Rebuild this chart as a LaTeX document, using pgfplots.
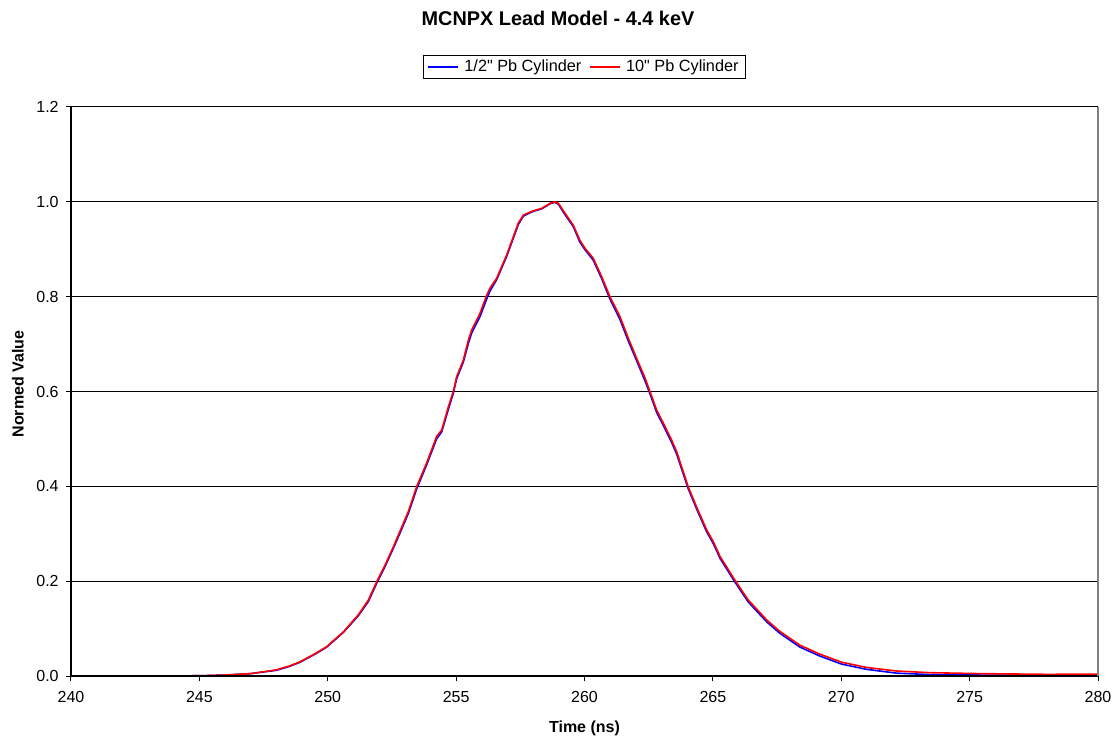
\documentclass[border=0pt]{standalone}
\usepackage{fontspec}
\setmainfont{Liberation Sans}
\newfontfamily\plainfont{Liberation Sans}
\newcommand{\inch}{{\plainfont"}}
\usepackage{pgfplots}
\pgfplotsset{compat=1.18}

\pgfplotstableread{
t v
240.25 0
243.00 0
245.00 0.0005
246.00 0.002
247.00 0.005
248.00 0.013
248.50 0.021
248.92 0.030
249.57 0.049
249.96 0.062
250.61 0.093
251.19 0.129
251.58 0.160
251.91 0.199
252.25 0.236
252.56 0.273
252.85 0.310
253.14 0.347
253.46 0.399
253.85 0.449
254.24 0.505
254.44 0.519
254.70 0.568
254.89 0.600
255.02 0.631
255.28 0.666
255.48 0.709
255.61 0.730
255.93 0.765
256.19 0.803
256.32 0.818
256.58 0.839
256.97 0.888
257.42 0.955
257.62 0.972
258.00 0.981
258.33 0.986
258.66 0.997
258.85 1.000
258.98 0.997
259.24 0.976
259.56 0.951
259.82 0.919
260.02 0.902
260.34 0.881
260.67 0.842
260.99 0.800
261.38 0.758
261.71 0.712
262.03 0.670
262.36 0.628
262.55 0.600
262.81 0.561
263.10 0.530
263.39 0.498
263.59 0.473
264.04 0.399
264.40 0.352
264.76 0.308
265.02 0.283
265.28 0.252
265.86 0.202
266.38 0.160
267.10 0.118
267.61 0.094
268.39 0.065
269.17 0.046
270.02 0.029
270.99 0.018
272.16 0.0105
273.46 0.007
275.40 0.005
278.00 0.0035
280.00 0.004
}\tenInch

\pgfplotstableread{
t v
240.25 0
243.00 0
245.00 0.0005
246.00 0.002
247.00 0.005
248.00 0.012
248.50 0.020
248.92 0.029
249.57 0.048
249.96 0.061
250.61 0.092
251.19 0.127
251.58 0.157
251.91 0.196
252.25 0.233
252.56 0.270
252.85 0.306
253.14 0.343
253.46 0.394
253.85 0.445
254.24 0.500
254.44 0.515
254.70 0.563
254.89 0.596
255.02 0.627
255.28 0.662
255.48 0.702
255.61 0.724
255.93 0.758
256.19 0.795
256.32 0.812
256.58 0.836
256.97 0.885
257.42 0.952
257.62 0.970
258.00 0.980
258.33 0.985
258.66 0.996
258.85 0.999
258.98 0.995
259.24 0.973
259.56 0.948
259.82 0.915
260.02 0.899
260.34 0.877
260.67 0.838
260.99 0.795
261.38 0.752
261.71 0.706
262.03 0.665
262.36 0.622
262.55 0.595
262.81 0.556
263.10 0.525
263.39 0.493
263.59 0.468
264.04 0.395
264.40 0.348
264.76 0.304
265.02 0.279
265.28 0.248
265.86 0.198
266.38 0.156
267.10 0.114
267.61 0.090
268.39 0.061
269.17 0.042
270.02 0.025
270.99 0.014
272.16 0.006
273.46 0.003
275.40 0.002
278.00 0.001
280.00 0.001
}\halfInch

\begin{document}
\begin{tikzpicture}
\path[use as bounding box] (-53.25pt,-47.25pt) rectangle (784.5pt,507pt);
\node[font=\bfseries\fontsize{14.9}{17}\selectfont] at (365.25pt,493pt) {MCNPX Lead Model - 4.4 keV};
\begin{axis}[
  at={(0,0)}, anchor=south west,
  scale only axis,
  width=770.25pt, height=426.75pt,
  xmin=240, xmax=280, ymin=0, ymax=1.2,
  xtick={240,245,...,280},
  ytick={0,0.2,...,1.2},
  /pgf/number format/assume math mode=true,
  yticklabel style={/pgf/number format/fixed, /pgf/number format/fixed zerofill, /pgf/number format/precision=1, xshift=-2pt},
  xticklabel style={yshift=-4pt},
  tick label style={font=\fontsize{12}{14}\selectfont},
  tick align=outside,
  major tick length=3.75pt,
  tick style={black, line width=0.75pt},
  xtick pos=bottom, ytick pos=left,
  ymajorgrids,
  major grid style={black, line width=0.75pt},
  axis line style={draw=none},
  xlabel={Time (ns)},
  ylabel={Normed Value},
  label style={font=\bfseries\fontsize{12}{14}\selectfont},
  xlabel style={at={(axis description cs:0.5,0)}, anchor=center, yshift=-39pt},
  ylabel style={at={(axis description cs:-0.0516,0.513)}, anchor=center, rotate=0},
  legend style={at={(0.5,1)}, anchor=center, yshift=30pt,
    legend columns=2, draw=black, line width=0.5pt,
    font=\fontsize{12.2}{15}\selectfont,
    /tikz/every odd column/.append style={column sep=2pt},
    /tikz/every even column/.append style={column sep=4pt},
    inner xsep=3pt, inner ysep=1.5pt},
  legend image code/.code={\draw[#1, line width=1pt] (0pt,0pt) -- (22.5pt,0pt);},
  clip=false,
]
\addplot[blue, line width=1.2pt] table[x=t,y=v] {\halfInch};
\addlegendentry{1/2\inch{} Pb Cylinder}
\addplot[red, line width=1.2pt] table[x=t,y=v] {\tenInch};
\addlegendentry{10\inch{} Pb Cylinder}
\draw[black, line width=1.6pt] (axis cs:240,1.2) -- (axis cs:240,0) -- (axis cs:280,0);
\draw[gray, line width=1pt] (axis cs:280,0) -- (axis cs:280,1.2);
\end{axis}
\end{tikzpicture}
\end{document}
